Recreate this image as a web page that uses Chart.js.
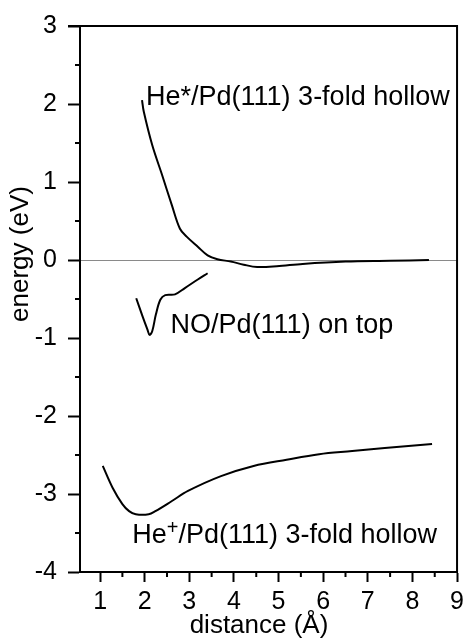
<!DOCTYPE html>
<html>
<head>
<meta charset="utf-8">
<script src="https://cdn.jsdelivr.net/npm/chart.js@4.4.1/dist/chart.umd.min.js"></script>
<style>
  html, body { margin: 0; padding: 0; background: #fff; }
  #wrap { width: 469px; height: 638px; }
</style>
</head>
<body>
<div id="wrap"><canvas id="chart" width="469" height="638"></canvas></div>
<script>
// ---- curves (distance in A, energy in eV) ----
const heStarX = [1.94, 1.98, 2.17, 2.39, 2.61, 2.79, 2.94, 3.19, 3.41, 3.63, 3.93, 4.22, 4.52, 4.96, 5.54, 6.5, 7.5, 8.37];
const heStarY = [2.05, 1.90, 1.47, 1.09, 0.70, 0.40, 0.30, 0.17, 0.06, 0.01, -0.02, -0.06, -0.09, -0.08, -0.05, -0.02, -0.01, 0.0];

const noX = [1.81, 1.95, 2.06, 2.11, 2.17, 2.25, 2.35, 2.46, 2.68, 2.90, 3.19, 3.41];
const noY = [-0.49, -0.72, -0.89, -0.96, -0.91, -0.70, -0.51, -0.45, -0.44, -0.36, -0.25, -0.17];

const hePlusX = [1.06, 1.28, 1.50, 1.65, 1.80, 2.09, 2.24, 2.61, 2.97, 3.71, 4.44, 5.18, 5.91, 6.65, 7.38, 8.44];
const hePlusY = [-2.64, -2.92, -3.13, -3.22, -3.26, -3.26, -3.22, -3.09, -2.96, -2.77, -2.64, -2.56, -2.49, -2.45, -2.41, -2.36];

// ---- axes ----
const xMajor = [1, 2, 3, 4, 5, 6, 7, 8, 9];
const xMinor = [1.5, 2.5, 3.5, 4.5, 5.5, 6.5, 7.5, 8.5];
const yMajor = [-4, -3, -2, -1, 0, 1, 2, 3];
const yMinor = [-3.5, -2.5, -1.5, -0.5, 0.5, 1.5, 2.5];

const FONT = '"Liberation Sans", Arial, Helvetica, sans-serif';

function pts(xs, ys) {
    return xs.map((x, i) => ({ x: x, y: ys[i] }));
}

function curve(label, xs, ys) {
    return {
        label: label,
        data: pts(xs, ys),
        showLine: true,
        borderColor: '#000',
        borderWidth: 2,
        pointRadius: 0,
        tension: 0.35,
        fill: false
    };
}

// minor ticks, top/right frame
const framePlugin = {
    id: 'frame',
    afterDraw(chart) {
        const { ctx, chartArea: a, scales } = chart;
        ctx.save();
        ctx.strokeStyle = '#000';
        ctx.lineWidth = 2;
        ctx.beginPath();
        ctx.moveTo(a.left - 12, a.top);
        ctx.lineTo(a.right, a.top);
        ctx.lineTo(a.right, a.bottom);
        xMinor.forEach(v => {
            const px = scales.x.getPixelForValue(v);
            ctx.moveTo(px, a.bottom);
            ctx.lineTo(px, a.bottom + 5);
        });
        yMinor.forEach(v => {
            const py = scales.y.getPixelForValue(v);
            ctx.moveTo(a.left - 5, py);
            ctx.lineTo(a.left, py);
        });
        ctx.stroke();
        ctx.restore();
    }
};

// curve labels + axis titles
const labelPlugin = {
    id: 'labels',
    afterDatasetsDraw(chart) {
        const { ctx, scales } = chart;
        const X = v => scales.x.getPixelForValue(v);
        const Y = v => scales.y.getPixelForValue(v);
        ctx.save();
        ctx.fillStyle = '#000';
        ctx.textBaseline = 'alphabetic';
        ctx.textAlign = 'left';
        ctx.font = '27px ' + FONT;

        ctx.fillText('He*/Pd(111) 3-fold hollow', X(2.03), Y(1.99));
        ctx.fillText('NO/Pd(111) on top', X(2.58), Y(-0.94));

        // He+ with superscript
        let x0 = X(1.72);
        const y0 = Y(-3.63);
        ctx.fillText('He', x0, y0);
        x0 += ctx.measureText('He').width;
        ctx.font = '20px ' + FONT;
        ctx.fillText('+', x0, y0 - 9);
        x0 += ctx.measureText('+').width;
        ctx.font = '27px ' + FONT;
        ctx.fillText('/Pd(111) 3-fold hollow', x0, y0);

        // axis titles
        ctx.font = '26px ' + FONT;
        ctx.textAlign = 'center';
        ctx.textBaseline = 'middle';
        ctx.fillText('distance (\u00C5)', 259, 626);
        ctx.translate(21, 254);
        ctx.rotate(-Math.PI / 2);
        ctx.fillText('energy (eV)', 0, 0);
        ctx.restore();
    }
};

new Chart(document.getElementById('chart'), {
    type: 'scatter',
    data: {
        datasets: [
            curve('He*/Pd(111) 3-fold hollow', heStarX, heStarY),
            curve('NO/Pd(111) on top', noX, noY),
            curve('He+/Pd(111) 3-fold hollow', hePlusX, hePlusY)
        ]
    },
    options: {
        responsive: false,
        animation: false,
        layout: { padding: { top: 24, right: 7, left: 0, bottom: 0 } },
        plugins: {
            legend: { display: false },
            tooltip: { enabled: false }
        },
        scales: {
            x: {
                type: 'linear',
                min: 0.55,
                max: 9,
                afterBuildTicks: s => { s.ticks = xMajor.map(v => ({ value: v })); },
                afterFit: s => { s.height = 66; },
                border: { display: true, color: '#000', width: 2 },
                grid: {
                    drawOnChartArea: false,
                    tickLength: 10,
                    tickWidth: 2,
                    tickColor: '#000'
                },
                ticks: {
                    padding: 5,
                    color: '#000',
                    font: { family: FONT, size: 25 },
                    maxRotation: 0,
                    callback: v => String(v)
                }
            },
            y: {
                type: 'linear',
                min: -4,
                max: 3,
                afterBuildTicks: s => { s.ticks = yMajor.map(v => ({ value: v })); },
                afterFit: s => { s.width = 80; },
                border: { display: true, color: '#000', width: 2 },
                grid: {
                    drawOnChartArea: true,
                    lineWidth: 1,
                    color: c => (c.tick && c.tick.value === 0) ? '#8a8a8a' : 'rgba(0,0,0,0)',
                    tickLength: 12,
                    tickWidth: 2,
                    tickColor: '#000'
                },
                ticks: {
                    padding: 11,
                    color: '#000',
                    font: { family: FONT, size: 25 },
                    callback: v => String(v)
                }
            }
        }
    },
    plugins: [framePlugin, labelPlugin]
});
</script>
</body>
</html>
